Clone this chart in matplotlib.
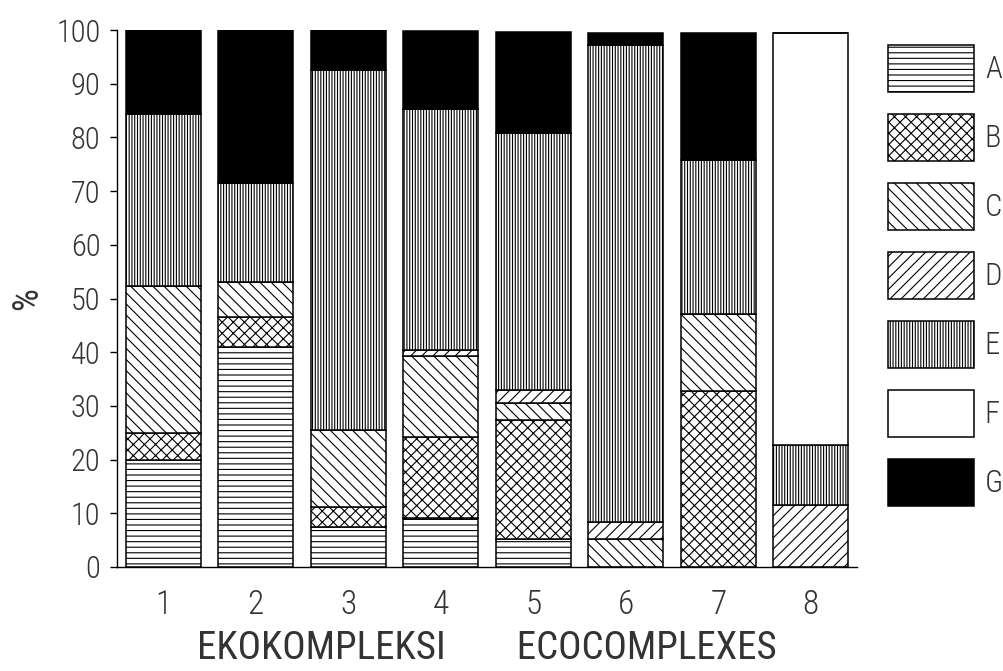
import numpy as np
import matplotlib
matplotlib.use("Agg")
import matplotlib.pyplot as plt

# ---- data ----
bars = ["1", "2", "3", "4", "5", "6", "7", "8"]
A = [20.0, 41.0, 7.5, 9.1, 5.3, 0.0, 0.0, 0.0]
B = [5.0, 5.5, 3.7, 15.2, 22.1, 0.0, 32.8, 0.0]
C = [27.3, 6.6, 14.3, 14.9, 3.2, 5.3, 14.4, 0.0]
D = [0.0, 0.0, 0.0, 1.2, 2.4, 3.1, 0.0, 11.6]
E = [32.0, 18.5, 67.0, 44.9, 47.8, 88.8, 28.6, 11.1]
F = [0.0, 0.0, 0.0, 0.0, 0.0, 0.0, 0.0, 76.8]
G = [15.7, 28.4, 7.5, 14.5, 18.8, 2.3, 23.7, 0.0]
series_names = ["A", "B", "C", "D", "E", "F", "G"]
series = [A, B, C, D, E, F, G]
yticks = [0, 10, 20, 30, 40, 50, 60, 70, 80, 90, 100]
xlabel = "EKOKOMPLEKSI" + " " * 8 + "ECOCOMPLEXES"

# ---- style ----
FAM = ["Roboto Condensed", "Open Sans Condensed", "Liberation Sans Narrow", "DejaVu Sans"]
plt.rcParams["font.family"] = FAM
plt.rcParams["font.stretch"] = "condensed"
plt.rcParams["font.weight"] = "light"
plt.rcParams["hatch.linewidth"] = 0.8
plt.rcParams["hatch.color"] = "black"
TXT = "#333333"

styles = {
    "A": dict(facecolor="white", hatch="---"),
    "B": dict(facecolor="white", hatch="xxx"),
    "C": dict(facecolor="white", hatch="\\\\\\"),
    "D": dict(facecolor="white", hatch="///"),
    "E": dict(facecolor="white", hatch="||||||"),
    "F": dict(facecolor="white", hatch=None),
    "G": dict(facecolor="black", hatch=None),
}

fig = plt.figure(figsize=(10.04, 6.71), dpi=100)
ax = fig.add_axes([117 / 1004, 1 - 567 / 671, 740 / 1004, 537 / 671])

x = np.arange(1, len(bars) + 1)
bottom = np.zeros(len(bars))
for name, vals in zip(series_names, series):
    v = np.array(vals, dtype=float)
    ax.bar(x, v, width=0.81, bottom=bottom, edgecolor="black", linewidth=1.1,
           label=name, **styles[name])
    bottom += v

ax.set_xlim(0.5, 8.5)
ax.set_ylim(0, 100)
ax.set_xticks(x)
ax.set_xticklabels(bars)
ax.set_yticks(yticks)
ax.set_yticklabels([str(t) for t in yticks])
ax.tick_params(axis="y", direction="out", length=5, width=1, pad=7,
               labelsize=22, labelcolor=TXT)
ax.tick_params(axis="x", length=0, pad=16, labelsize=24, labelcolor=TXT)
for s in ["top", "right"]:
    ax.spines[s].set_visible(False)
for s in ["left", "bottom"]:
    ax.spines[s].set_linewidth(1.0)

ax.set_xlabel(xlabel, fontsize=28, color=TXT, labelpad=6)
ax.yaxis.set_label_coords(-0.097, 0.5)
ax.set_ylabel("%", fontsize=26, color=TXT)

leg = fig.legend(loc="upper left", bbox_to_anchor=(888 / 1004, 1 - 45 / 671),
                 frameon=False, fontsize=22, handlelength=2.81,
                 handleheight=1.99, labelspacing=0.72, handletextpad=0.36,
                 borderpad=0, borderaxespad=0)
for t in leg.get_texts():
    t.set_color(TXT)

fig.savefig("out.png", dpi=100)
